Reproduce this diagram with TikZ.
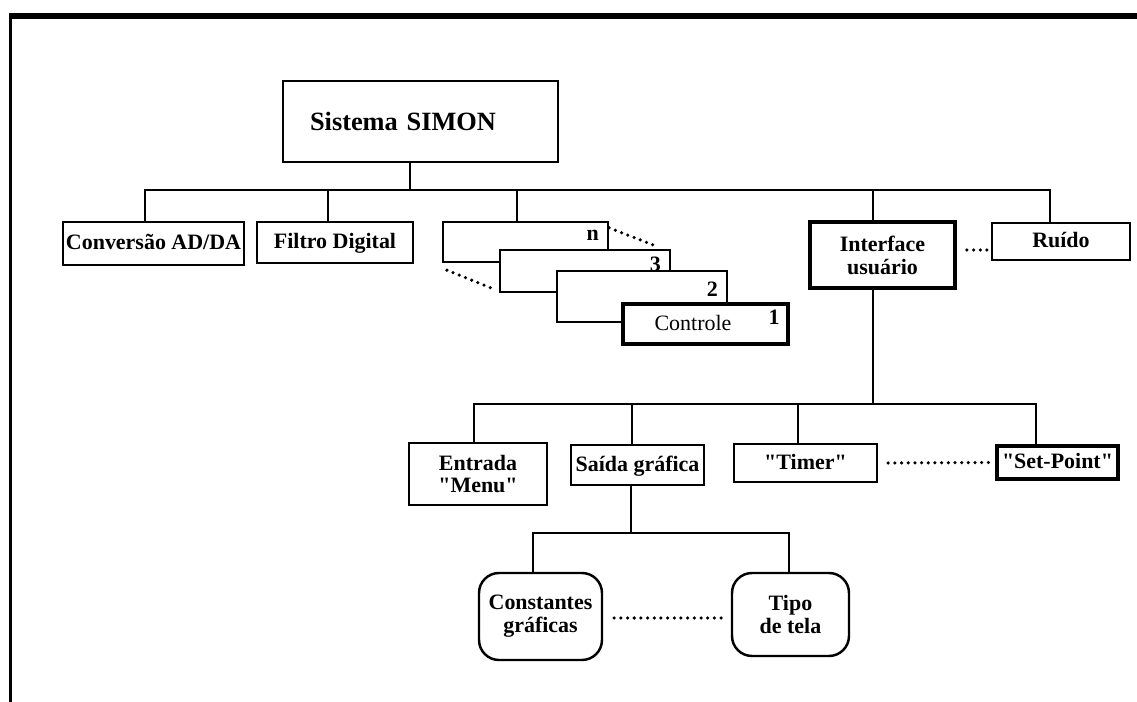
\documentclass[tikz,border=0pt]{standalone}
\usepackage{fontspec}
\setmainfont{Liberation Serif}
\usetikzlibrary{shapes,arrows,positioning,calc}

\begin{document}
\begin{tikzpicture}[
        x=0.02cm, y=-0.02cm,
        block/.style={rectangle, draw, line width=1.4pt, fill=white, inner sep=1pt, align=center, font=\fontsize{12.5}{13}\selectfont\bfseries},
        oneline/.style={text height=8.5pt, text depth=1.5pt},
        thickblock/.style={block, line width=2.2pt},
        roundblock/.style={block, rounded corners=0.4cm},
        layer/.style={block, line width=1.3pt},
        num/.style={label={[anchor=east, inner sep=0pt, xshift=-0.2cm, yshift=0.14cm, font=\fontsize{12.5}{13}\selectfont\bfseries]east:#1}},
        link/.style={line width=1.1pt},
        dots/.style={line width=2pt, line cap=round, dash pattern=on 0pt off 3.8pt}
    ]
    
    \useasboundingbox (0,0) rectangle (1137,702);
    \draw[line width=3.4pt] (9,16) -- (1137,16);
    \draw[line width=2pt] (10.5,16) -- (10.5,702);
    
    \node[block, line width=1.2pt, minimum width=5.5cm, minimum height=1.62cm, text width=4.42cm, inner xsep=0.54cm, align=left, font=\fontsize{15}{17}\selectfont\bfseries] (sim) at (420.5,121.5) {Sistema SIMON};
    
    \node[block, oneline, minimum width=3.62cm, minimum height=0.86cm] (conv) at (153.5,243.5) {Conversão AD/DA};
    \node[block, oneline, minimum width=3.12cm, minimum height=0.82cm] (filtro) at (335,242.5) {Filtro Digital};
    \node[layer, num=n, minimum width=3.3cm, minimum height=0.8cm] (ctrlN) at (525.5,242) {};
    \node[layer, num=3, minimum width=3.4cm, minimum height=0.84cm] (ctrl3) at (585,271) {};
    \node[layer, num=2, minimum width=3.4cm, minimum height=1.02cm] (ctrl2) at (642,296.5) {};
    \node[thickblock, oneline, num=1, minimum width=3.3cm, minimum height=0.8cm, font=\fontsize{12.5}{13}\selectfont] (ctrl1) at (705.5,324) {Controle\hspace*{0.5cm}};
    \node[thickblock, minimum width=2.9cm, minimum height=1.32cm] (iface) at (882.5,255) {Interface\\usuário};
    \node[block, oneline, minimum width=2.76cm, minimum height=0.74cm] (ruido) at (1061,241.5) {Ruído};
    
    \node[block, minimum width=2.76cm, minimum height=1.24cm] (entrada) at (478,474) {Entrada\\\textquotedbl Menu\textquotedbl};
    \node[block, oneline, minimum width=2.66cm, minimum height=0.8cm] (saida) at (637.5,465) {Saída gráfica};
    \node[block, oneline, minimum width=2.86cm, minimum height=0.76cm] (timer) at (805.5,463) {\textquotedbl Timer\textquotedbl};
    \node[block, oneline, line width=1.8pt, minimum width=2.42cm, minimum height=0.66cm] (setp) at (1057.5,462.5) {\textquotedbl Set-Point\textquotedbl};
    
    \node[roundblock, minimum width=2.46cm, minimum height=1.74cm] (const) at (540.5,616.5) {Constantes\\gráficas};
    \node[roundblock, minimum width=2.34cm, minimum height=1.66cm] (tipo) at (790.5,614.5) {Tipo\\de tela};
    
    \coordinate (bus1) at (410,190);
    \coordinate (bus2) at (873,404);
    \coordinate (bus3) at (631,533);
    
    \draw[link] (sim.south -| bus1) -- (bus1);
    \foreach \n/\s in {conv/-0.17, filtro/-0.14, ctrlN/-0.17, iface/-0.19, ruido/-0.22}
        \draw[link] ([xshift=\s cm]\n.north) |- (bus1);
    \draw[link] (iface.south -| bus2) -- (bus2);
    \foreach \n/\s in {entrada/-0.08, saida/-0.11, timer/-0.15, setp/-0.43}
        \draw[link] ([xshift=\s cm]\n.north) |- (bus2);
    \draw[link] (saida.south -| bus3) -- (bus3);
    \foreach \n/\s in {const/-0.15, tipo/-0.03}
        \draw[link] ([xshift=\s cm]\n.north) |- (bus3);
    
    \draw[dots] ([yshift=-0.14cm]ctrlN.north east) -- ([xshift=-0.26cm,yshift=0.04cm]ctrl3.north east);
    \draw[dots] ([xshift=0.1cm,yshift=-0.14cm]ctrlN.south west) -- ([xshift=-0.1cm,yshift=0.08cm]ctrl3.south west);
    \draw[dots] ([xshift=0.2cm,yshift=0.1cm]iface.east) -- ([xshift=-0.04cm,yshift=-0.17cm]ruido.west);
    \draw[dots] ([xshift=0.2cm]timer.east) -- ([xshift=-0.08cm]setp.west);
    \draw[dots] ([xshift=0.22cm,yshift=-0.03cm]const.east) -- ([xshift=-0.18cm,yshift=-0.07cm]tipo.west);
    
\end{tikzpicture}
\end{document}
